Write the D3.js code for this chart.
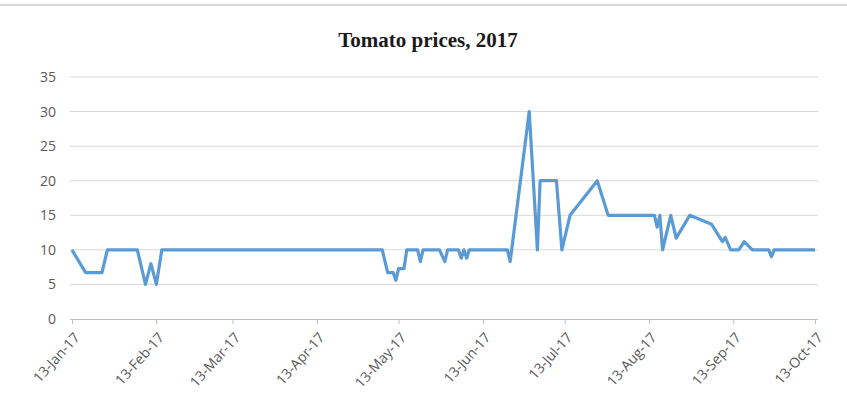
<!DOCTYPE html>
<html>
<head>
<meta charset="utf-8">
<script src="https://cdn.jsdelivr.net/npm/d3@7"></script>
<style>
  body { margin: 0; background: #fff; }
  svg { display: block; }
</style>
</head>
<body>
<div id="chart"></div>
<script>
// price readings
const dates = [
  "2017-01-13", "2017-01-18", "2017-01-24", "2017-01-26", "2017-02-06",
  "2017-02-09", "2017-02-11", "2017-02-13", "2017-02-15", "2017-05-07",
  "2017-05-09", "2017-05-11", "2017-05-12", "2017-05-13", "2017-05-15",
  "2017-05-16", "2017-05-20", "2017-05-21", "2017-05-22", "2017-05-28",
  "2017-05-30", "2017-05-31", "2017-06-04", "2017-06-05", "2017-06-06",
  "2017-06-07", "2017-06-08", "2017-06-22", "2017-06-23", "2017-06-30",
  "2017-07-03", "2017-07-04", "2017-07-10", "2017-07-12", "2017-07-15",
  "2017-07-25", "2017-07-29", "2017-08-15", "2017-08-16", "2017-08-17",
  "2017-08-18", "2017-08-21", "2017-08-23", "2017-08-28", "2017-09-05",
  "2017-09-09", "2017-09-10", "2017-09-12", "2017-09-15", "2017-09-17",
  "2017-09-20", "2017-09-26", "2017-09-27", "2017-09-28", "2017-10-13"
];
const prices = [
  10, 6.7, 6.7, 10, 10,
  5, 8, 5, 10, 10,
  6.7, 6.7, 5.6, 7.3, 7.3,
  10, 10, 8.3, 10, 10,
  8.3, 10, 10, 8.8, 10,
  8.8, 10, 10, 8.3, 30,
  10, 20, 20, 10, 15,
  20, 15, 15, 13.3, 15,
  10, 15, 11.7, 15, 13.7,
  11.2, 11.8, 10, 10, 11.2,
  10, 10, 9, 10, 10
];
const xTicks = [
  "2017-01-13", "2017-02-13", "2017-03-13", "2017-04-13", "2017-05-13",
  "2017-06-13", "2017-07-13", "2017-08-13", "2017-09-13", "2017-10-13"
];
const yTicks = [0, 5, 10, 15, 20, 25, 30, 35];
const title = "Tomato prices, 2017";

const parse = d3.timeParse("%Y-%m-%d");
const fmt = d3.timeFormat("%d-%b-%y");

let W = 847, H = 411;
let svg = d3.select("#chart")
    .append("svg")
    .attr("width", W)
    .attr("height", H);

// frame edge at the top
svg.append("line")
    .attr("x1", 0).attr("x2", W)
    .attr("y1", 5).attr("y2", 5)
    .attr("stroke", "#d9d9d9")
    .attr("stroke-width", 2);

let x = d3.scaleTime()
    .domain([parse(xTicks[0]), parse(xTicks[xTicks.length - 1])])
    .range([72, 815]);
let y = d3.scaleLinear()
    .domain([0, 35])
    .range([319, 77]);

// gridlines
svg.append("g")
    .selectAll("line")
    .data(yTicks.slice(1))
    .enter()
    .append("line")
    .attr("x1", 70).attr("x2", 818)
    .attr("y1", d => y(d)).attr("y2", d => y(d))
    .attr("stroke", "#d9d9d9")
    .attr("stroke-width", 1);

// y axis labels
let yAxis = svg.append("g")
    .attr("transform", "translate(70,0)")
    .call(d3.axisLeft(y).tickValues(yTicks).tickSize(0).tickPadding(14));
yAxis.select(".domain").remove();
yAxis.selectAll("text")
    .attr("fill", "#595959")
    .style("font-family", "'Open Sans', sans-serif")
    .style("font-size", "14px");

// x axis
let xAxis = svg.append("g")
    .attr("transform", "translate(0," + y(0) + ")")
    .call(d3.axisBottom(x)
        .tickValues(xTicks.map(parse))
        .tickFormat(fmt)
        .tickSize(5)
        .tickSizeOuter(0));
xAxis.select(".domain")
    .attr("stroke", "#bfbfbf")
    .attr("d", "M70,0.5H818");
xAxis.selectAll("line").attr("stroke", "#bfbfbf");
xAxis.selectAll("text")
    .attr("fill", "#595959")
    .style("font-family", "'Open Sans', sans-serif")
    .style("font-size", "14px")
    .attr("text-anchor", "end")
    .attr("dy", null)
    .attr("y", 0)
    .attr("transform", "translate(8,19) rotate(-48)");

// the price line
let pts = dates.map((d, i) => ({ date: parse(d), price: prices[i] }));
svg.append("path")
    .datum(pts)
    .attr("fill", "none")
    .attr("stroke", "#5b9bd5")
    .attr("stroke-width", 3.2)
    .attr("stroke-linejoin", "round")
    .attr("d", d3.line()
        .x(d => x(d.date))
        .y(d => y(d.price)));

// title
svg.append("text")
    .attr("x", 428)
    .attr("y", 47)
    .attr("text-anchor", "middle")
    .style("font-family", "'Liberation Serif', 'Times New Roman', serif")
    .style("font-weight", "bold")
    .style("font-size", "21px")
    .attr("fill", "#1a1a1a")
    .text(title);
</script>
</body>
</html>
